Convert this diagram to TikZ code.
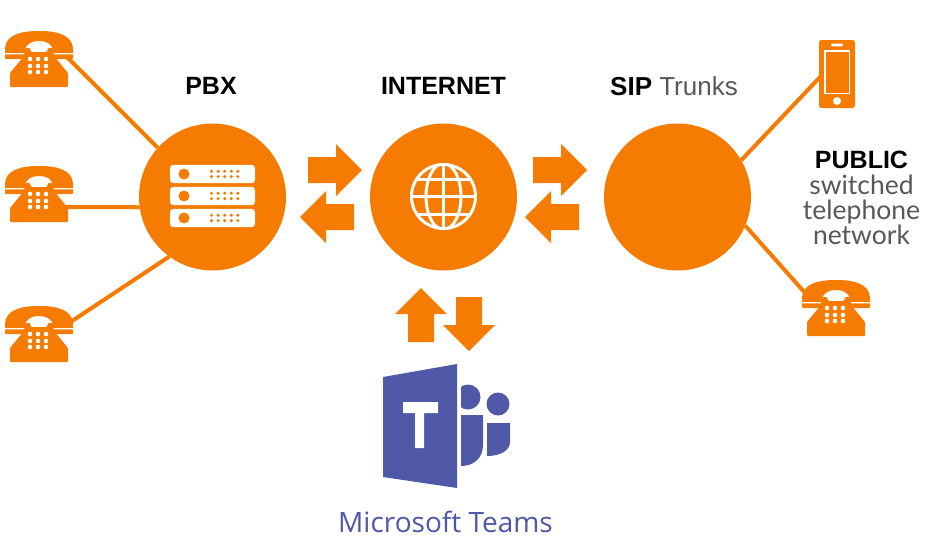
\documentclass[tikz,border=0pt]{standalone}
\usepackage{fontspec}
\setmainfont{Liberation Sans}
\newfontfamily\teamsfont{Open Sans}
\newfontfamily\lightfont{Lato}
\definecolor{brandorange}{HTML}{F57C00}
\definecolor{teamsblue}{HTML}{5058A8}
\definecolor{softgrey}{HTML}{58585A}
\tikzset{
  hub/.style={circle,fill=brandorange,minimum size=147pt,inner sep=0pt},
  wire/.style={draw=brandorange,line width=4pt},
  headline/.style={font=\bfseries\fontsize{25}{25}\selectfont,text=black,inner sep=0pt},
  phoneicon/.pic={
    \fill[brandorange,rounded corners=1pt]
      (-34,28) -- (-34,18) .. controls (-33,4) and (-18,0) .. (0,0)
      .. controls (18,0) and (33,4) .. (34,18) -- (34,28) -- (14,28) -- (14,21)
      .. controls (14,14) and (8,10) .. (0,10) .. controls (-8,10) and (-14,14) .. (-14,21)
      -- (-14,28) -- cycle;
    \fill[white] (-35,22.2) rectangle (-14,23.4) (14,22.2) rectangle (35,23.4);
    \fill[white] (-14,17) rectangle (14,30);
    \fill[brandorange,rounded corners=1pt]
      (-14,17) -- (-9,17) -- (-8,21) -- (8,21) -- (9,17) -- (14,17) -- (15,25)
      -- (29,42) -- (29,56) -- (-29,56) -- (-29,42) -- (-15,25) -- cycle;
    \foreach \dotx in {-9,-1,7} \foreach \doty in {28,35,41}
      \fill[white] (\dotx,\doty) circle (2.3);
  },
  bigarrow/.pic={
    \fill[brandorange] (-27,-13) -- (1,-13) -- (1,-26) -- (27,0) -- (1,26) -- (1,13) -- (-27,13) -- cycle;
  },
  serverunit/.pic={
    \fill[white,rounded corners=3.5pt] (-42.5,-9.2) rectangle (42.5,9.2);
    \fill[brandorange] (-28.5,0) circle (5.5);
    \foreach \dotx in {-1,5.6,...,32} \foreach \doty in {-2.8,2.6}
      \fill[brandorange] (\dotx,\doty) circle (1.7);
  }
}
\begin{document}
\begin{tikzpicture}[x=1pt,y=-1pt]
\useasboundingbox[fill=white] (0,0) rectangle (938,555);

% hubs
\node[hub] (pbx) at (212.5,197) {};
\node[hub] (internet) at (443.5,197) {};
\node[hub] (sip) at (677.5,197) {};

% connector end points at the terminals
\coordinate (phoneA) at (66,56);
\coordinate (phoneB) at (62,207);
\coordinate (phoneC) at (66,325);
\coordinate (mobile) at (821,76);
\coordinate (phoneD) at (806,294);

\draw[wire] (phoneA) -- (pbx.138);
\draw[wire] (phoneB) -- (pbx.188);
\draw[wire] (phoneC) -- (pbx.234);
\draw[wire] (mobile) -- (sip.30);
\draw[wire] (phoneD) -- (sip.-23);

% phones
\pic at (39,31) {phoneicon};
\pic at (39,166) {phoneicon};
\pic at (39,306) {phoneicon};
\pic at (836,280) {phoneicon};

% mobile
\fill[brandorange,rounded corners=2.5pt] (819,40) rectangle (855,108);
\draw[white,line width=1.3pt] (825,51) rectangle (849.5,93.5);
\fill[white,rounded corners=1pt] (831,43.6) rectangle (843,46.4);
\fill[white] (837,101) circle (4);

% server
\pic at (212.5,174) {serverunit};
\pic at (212.5,196) {serverunit};
\pic at (212.5,218) {serverunit};

% globe
\begin{scope}[draw=white,line width=3pt]
  \begin{scope}
    \clip (443.5,196.5) circle (33);
    \draw (443.5,163) -- (443.5,230);
    \draw (443.5,196.5) ellipse (17.5 and 33);
    \draw (408,196.5) -- (479,196.5);
    \draw (408,179) -- (479,179);
    \draw (408,214) -- (479,214);
  \end{scope}
  \draw (443.5,196.5) circle (32);
\end{scope}

% arrows
\pic at (335,170) {bigarrow};
\pic[rotate=180] at (327,217) {bigarrow};
\pic at (560,170) {bigarrow};
\pic[rotate=180] at (552,217) {bigarrow};
\pic[rotate=90] at (421,315) {bigarrow};
\pic[rotate=-90] at (469,324) {bigarrow};

% Teams logo
\fill[teamsblue] (383,377) -- (457,364) -- (457,488) -- (383,477) -- cycle;
\fill[white] (403,402) rectangle (438,413) (415,402) rectangle (424,448);
\begin{scope}
  \clip (461,380) rectangle (485,412);
  \fill[teamsblue] (468,397) circle (12.5);
\end{scope}
\fill[teamsblue] (498,404) circle (11.5);
\fill[teamsblue] (461,415) -- (483,415) -- (483,445) .. controls (483,458) and (474,466) .. (461,466) -- cycle;
\fill[teamsblue] (487,423) -- (510,423) -- (510,442) .. controls (510,450) and (501,456) .. (487,456) -- cycle;

% labels
\node[headline] (pbxlabel) at (211,86) {PBX};
\node[headline] (internetlabel) at (443.5,86) {INTERNET};
\node[headline,font=\bfseries\fontsize{26}{26}\selectfont] (siplabel) at (674,86) {SIP \textcolor{softgrey}{\mdseries Trunks}};
\node[headline] (publiclabel) at (861.5,160) {PUBLIC};
\node[align=center,text=softgrey,inner sep=0pt,font=\lightfont\fontsize{26.5}{25}\selectfont] (pstnlabel) at (861.5,210) {switched\\telephone\\network};
\node[text=teamsblue,inner sep=0pt,font=\teamsfont\fontsize{28}{28}\selectfont] (teamslabel) at (445.5,522) {Microsoft Teams};
\end{tikzpicture}
\end{document}
